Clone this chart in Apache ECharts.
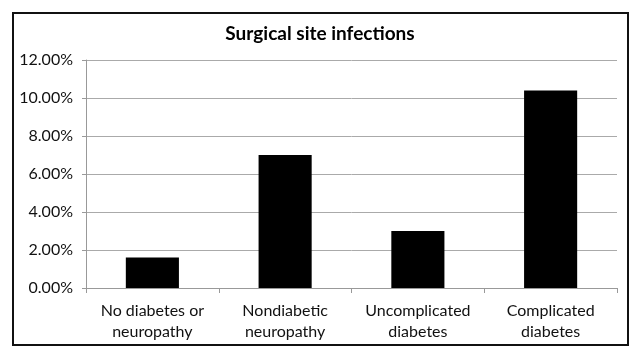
<!DOCTYPE html>
<html><head><meta charset="utf-8">
<script src="https://cdn.jsdelivr.net/npm/echarts@6/dist/echarts.min.js"></script>
<style>html,body{margin:0;padding:0;background:#fff}#c{width:640px;height:359px}</style>
</head><body><div id="c"></div>
<script>
const categories = ['No diabetes or\nneuropathy', 'Nondiabetic\nneuropathy', 'Uncomplicated\ndiabetes', 'Complicated\ndiabetes'];
const values = [1.6, 7.0, 3.0, 10.4];
const yTicks = [0, 2, 4, 6, 8, 10, 12];
const titleText = 'Surgical site infections';

const chart = echarts.init(document.getElementById('c'), null, {renderer: 'canvas'});
const font = 'Lato, "Open Sans", sans-serif';
chart.setOption({
  animation: false,
  backgroundColor: '#fff',
  title: {
    text: titleText, left: 'center', top: 19,
    textStyle: {fontFamily: font, fontSize: 19, fontWeight: 'bold', color: '#000'}
  },
  graphic: [{
    type: 'rect', shape: {x: 13, y: 13, width: 615, height: 332},
    style: {fill: 'none', stroke: '#111', lineWidth: 2}, silent: true
  }],
  grid: {left: 86, right: 23, top: 60, bottom: 71},
  xAxis: {
    type: 'category', data: categories,
    axisLine: {show: true, lineStyle: {color: '#999', width: 1}},
    axisTick: {show: true, interval: 0, length: 5, lineStyle: {color: '#999'}},
    axisLabel: {interval: 0, hideOverlap: false, fontFamily: font, fontSize: 16, color: '#111', margin: 12, lineHeight: 21}
  },
  yAxis: {
    type: 'value', min: yTicks[0], max: yTicks[yTicks.length - 1], interval: 2,
    axisLine: {show: true, lineStyle: {color: '#999', width: 1}},
    axisTick: {show: true, length: 4, lineStyle: {color: '#999'}},
    splitLine: {show: true, lineStyle: {color: '#aaa', width: 1}},
    axisLabel: {fontFamily: font, fontSize: 16, color: '#111', margin: 13,
      formatter: v => v.toFixed(2) + '%'}
  },
  series: [{
    type: 'bar', data: values, barWidth: '40%',
    itemStyle: {color: '#000'}
  }]
});
</script></body></html>
